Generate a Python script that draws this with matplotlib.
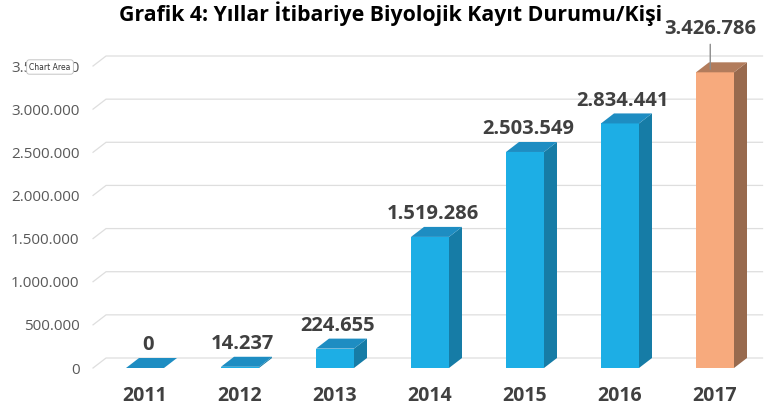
import numpy as np
import matplotlib.pyplot as plt
from matplotlib.patches import Polygon

plt.rcParams['font.family'] = ['Open Sans', 'DejaVu Sans']

years = ['2011', '2012', '2013', '2014', '2015', '2016', '2017']
values = [0, 14237, 224655, 1519286, 2503549, 2834441, 3426786]
value_labels = ['0', '14.237', '224.655', '1.519.286', '2.503.549', '2.834.441', '3.426.786']
y_ticks = [0, 500000, 1000000, 1500000, 2000000, 2500000, 3000000, 3500000]
y_tick_labels = ['0', '500.000', '1.000.000', '1.500.000', '2.000.000', '2.500.000', '3.000.000', '3.500.000']

blue = ('#1DAEE5', '#1E8DC2', '#167CA6')     # front, top, side
orange = ('#F7AA7D', '#B27C5C', '#986A4E')

fig = plt.figure(figsize=(7.65, 4.12), dpi=100)
ax = fig.add_axes([97.5 / 765, 44 / 412, 665 / 765, 302 / 412])
ax.set_xlim(-0.5, 6.5)
ax.set_ylim(0, 3500000)

# depth of the fake 3d in data units (~13 px right, ~10 px up)
DX = 13 / 95
DY = 10 / 302 * 3500000
w = 0.4

# gridlines on the back wall with a slanted piece on the side wall
for v in y_ticks:
    x0 = -0.547
    ax.plot([x0, x0 + DX, 6.5], [v, v + DY, v + DY], color='#DEDEDE',
            lw=0.9, zorder=0, clip_on=False)

x = np.arange(len(years))
for i, v in enumerate(values):
    front, top, side = orange if i == len(values) - 1 else blue
    ax.bar(x[i], v, width=w, color=front, zorder=2)
    xl, xr = x[i] - w / 2, x[i] + w / 2
    ax.add_patch(Polygon([(xr, 0), (xr + DX, DY), (xr + DX, v + DY), (xr, v)],
                         closed=True, facecolor=side, edgecolor='none', zorder=2, clip_on=False))
    ax.add_patch(Polygon([(xl, v), (xr, v), (xr + DX, v + DY), (xl + DX, v + DY)],
                         closed=True, facecolor=top, edgecolor='none', zorder=3, clip_on=False))

# value labels
for i, v in enumerate(values):
    if i == len(values) - 1:
        ax.annotate(value_labels[i], xy=(x[i] - 0.05, v + DY * 0.3), xytext=(0, 22),
                    textcoords='offset points', ha='center', va='bottom',
                    fontsize=14.5, fontweight='bold', color='#404040',
                    arrowprops=dict(arrowstyle='-', color='#8C8C8C', lw=1,
                                    shrinkA=2, shrinkB=0))
    else:
        ax.annotate(value_labels[i], xy=(x[i] + 0.03, v + DY), xytext=(0, 2),
                    textcoords='offset points', ha='center', va='bottom',
                    fontsize=14.5, fontweight='bold', color='#404040')

ax.set_xticks(x)
ax.set_xticklabels(years, fontsize=14, fontweight='bold', color='#404040')
ax.set_yticks(y_ticks)
ax.set_yticklabels(y_tick_labels, fontsize=11, color='#595959')
ax.tick_params(axis='both', length=0)
ax.tick_params(axis='y', pad=13)
ax.tick_params(axis='x', pad=13)
for s in ax.spines.values():
    s.set_visible(False)

fig.text(0.511, 0.967, 'Grafik 4: Yıllar İtibariye Biyolojik Kayıt Durumu/Kişi',
         ha='center', va='center', fontsize=15.3, fontweight='bold', color='black')

# "Chart Area" tooltip left over in the screenshot
fig.text(50 / 765, 1 - 67 / 412, 'Chart Area', ha='center', va='center', fontsize=5.5,
         color='#333333', family='DejaVu Sans',
         bbox=dict(boxstyle='round,pad=0.35', fc='white', ec='#BBBBBB', lw=0.6))

fig.savefig('out.png', dpi=100)
